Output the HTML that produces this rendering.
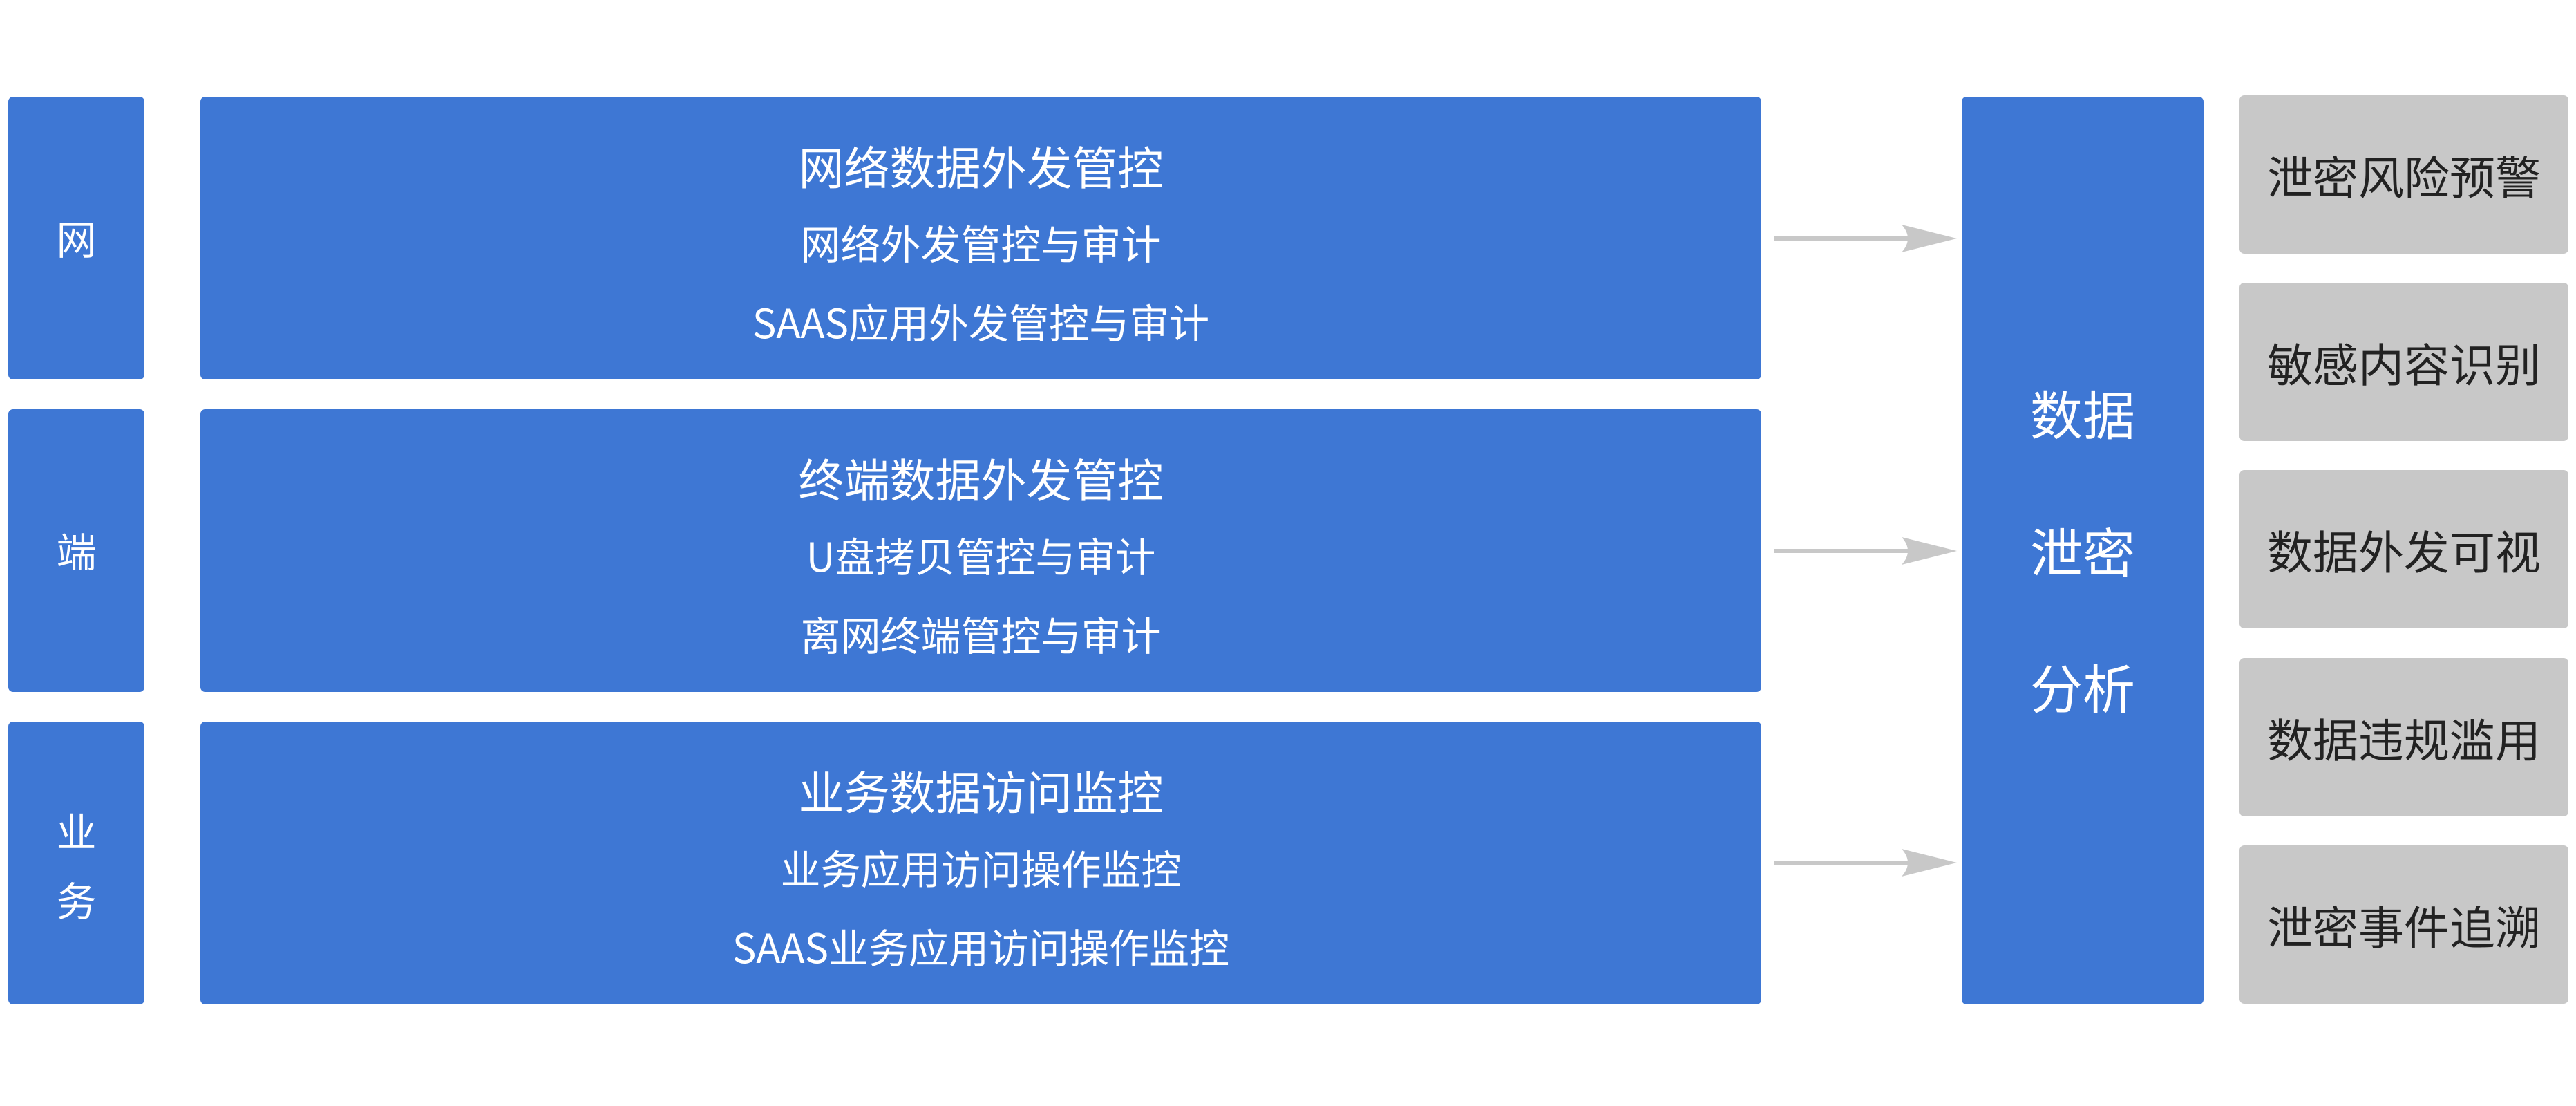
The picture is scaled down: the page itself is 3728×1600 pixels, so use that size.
<!DOCTYPE html>
<html><head><meta charset="utf-8"><style>
body{margin:0;width:3728px;height:1600px;background:#fff;position:relative;overflow:hidden;font-family:"Noto Sans CJK SC","Liberation Sans",sans-serif}
.b{position:absolute;background:#3E77D4;border-radius:7px;color:#fff}
.g{position:absolute;background:#C8C8C8;border-radius:7px;color:#222;font-size:66px;display:flex;align-items:center;justify-content:center;left:3241px;width:476px;height:229px}
.t{position:absolute;left:0;right:0;text-align:center;line-height:1;white-space:nowrap}
</style></head><body>
<div class="b" style="left:12px;top:140px;width:197px;height:409px"><div class="t" style="top:174px;font-size:58px">网</div></div>
<div class="b" style="left:12px;top:592px;width:197px;height:409px"><div class="t" style="top:174px;font-size:58px">端</div></div>
<div class="b" style="left:12px;top:1044px;width:197px;height:409px"><div class="t" style="top:127px;font-size:58px">业</div><div class="t" style="top:227px;font-size:58px">务</div></div>

<div class="b" style="left:290px;top:140px;width:2259px;height:409px">
<div class="t" style="top:66px;font-size:66px">网络数据外发管控</div>
<div class="t" style="top:181px;font-size:58px">网络外发管控与审计</div>
<div class="t" style="top:295px;font-size:58px">SAAS应用外发管控与审计</div></div>
<div class="b" style="left:290px;top:592px;width:2259px;height:409px">
<div class="t" style="top:66px;font-size:66px">终端数据外发管控</div>
<div class="t" style="top:181px;font-size:58px">U盘拷贝管控与审计</div>
<div class="t" style="top:295px;font-size:58px">离网终端管控与审计</div></div>
<div class="b" style="left:290px;top:1044px;width:2259px;height:409px">
<div class="t" style="top:66px;font-size:66px">业务数据访问监控</div>
<div class="t" style="top:181px;font-size:58px">业务应用访问操作监控</div>
<div class="t" style="top:295px;font-size:58px">SAAS业务应用访问操作监控</div></div>

<svg style="position:absolute;left:0;top:0" width="3728" height="1600">
<g fill="#C8C8C8" stroke="none">
<rect x="2568" y="342" width="200" height="6"/><path d="M2752 325 Q2770 345 2752 365 L2832 345 Z"/>
<rect x="2568" y="794" width="200" height="6"/><path d="M2752 777 Q2770 797 2752 817 L2832 797 Z"/>
<rect x="2568" y="1245" width="200" height="6"/><path d="M2752 1228 Q2770 1248 2752 1268 L2832 1248 Z"/>
</g></svg>

<div class="b" style="left:2839px;top:140px;width:350px;height:1313px">
<div class="t" style="top:418px;font-size:76px">数据</div>
<div class="t" style="top:617px;font-size:76px">泄密</div>
<div class="t" style="top:814px;font-size:76px">分析</div></div>

<div class="g" style="top:138px">泄密风险预警</div>
<div class="g" style="top:409px">敏感内容识别</div>
<div class="g" style="top:680px">数据外发可视</div>
<div class="g" style="top:952px">数据违规滥用</div>
<div class="g" style="top:1223px">泄密事件追溯</div>
</body></html>
